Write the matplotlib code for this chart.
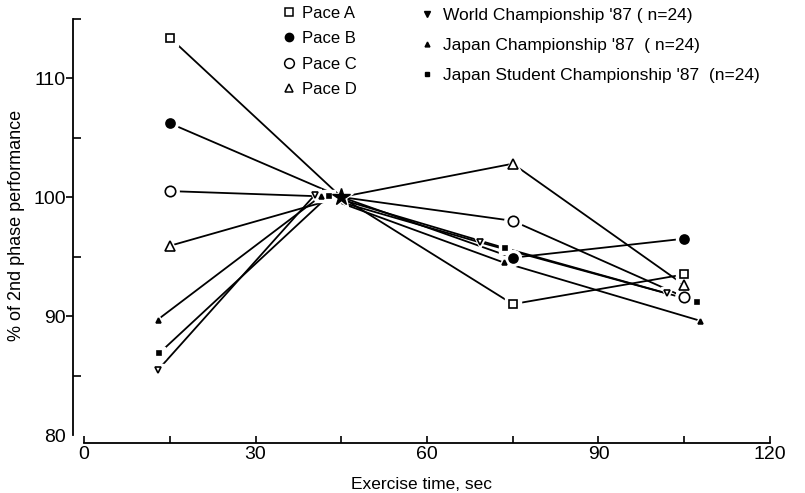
import numpy as np
import matplotlib.pyplot as plt
from matplotlib.lines import Line2D

plt.rcParams['font.family'] = ['Liberation Sans', 'DejaVu Sans']
narrow = ['Liberation Sans Narrow', 'Liberation Sans', 'DejaVu Sans']

# pace conditions: checkpoints at 15, 45, 75, 105 s (45 s is the reference point)
pace_time = [15, 45, 75, 105]
pace_a = [113.4, 100.0, 91.0, 93.5]
pace_b = [106.2, 100.0, 94.9, 96.5]
pace_c = [100.5, 100.0, 98.0, 91.6]
pace_d = [95.9, 100.0, 102.8, 92.6]

# race data, mean split times of each competition
world_time = [13.0, 40.4, 69.2, 101.9]
world_pct = [85.5, 100.2, 96.2, 91.9]
japan_time = [12.9, 41.5, 73.4, 107.8]
japan_pct = [89.7, 100.1, 94.5, 89.6]
student_time = [13.2, 42.8, 73.7, 107.2]
student_pct = [86.9, 100.1, 95.7, 91.2]

pace_labels = ['Pace A', 'Pace B', 'Pace C', 'Pace D']
race_labels = ["World Championship '87 ( n=24)",
               "Japan Championship '87  ( n=24)",
               "Japan Student Championship '87  (n=24)"]

fig = plt.figure(figsize=(8.05, 4.93), dpi=100)
ax = fig.add_axes([0.0902, 0.1176, 0.8663, 0.852])


def draw(t, v, marker, ms, fill, every=None):
    ax.plot(t, v, '-', color='k', lw=1.3, zorder=2)
    # white halo so the lines stop short of the symbols
    ax.plot(t, v, ls='none', marker=marker, ms=ms + 5, mfc='w', mec='w',
            markevery=every, zorder=3)
    ax.plot(t, v, ls='none', marker=marker, ms=ms, mfc=fill, mec='k',
            mew=1.2, markevery=every, zorder=4)


keep = [0, 2, 3]
draw(pace_time, pace_a, 's', 6, 'w', keep)
draw(pace_time, pace_b, 'o', 6.5, 'k', keep)
draw(pace_time, pace_c, 'o', 7.5, 'w', keep)
draw(pace_time, pace_d, '^', 6.5, 'w', keep)
draw(world_time, world_pct, 'v', 4, 'w')
draw(japan_time, japan_pct, '^', 3.5, 'k')
draw(student_time, student_pct, 's', 3.5, 'k')

# common reference point of the pace conditions
ax.plot(pace_time[1], pace_a[1], ls='none', marker='*', ms=18, mfc='w', mec='w', zorder=3)
ax.plot(pace_time[1], pace_a[1], ls='none', marker='*', ms=13, mfc='k', mec='k', zorder=5)

ax.set_xlim(-2, 120)
ax.set_ylim(80, 115.3)

for s in ['top', 'right']:
    ax.spines[s].set_visible(False)
ax.spines['left'].set_bounds(80, 115)
ax.spines['bottom'].set_position(('outward', 6))
ax.spines['bottom'].set_bounds(0, 120)
ax.spines['left'].set_linewidth(1.3)
ax.spines['bottom'].set_linewidth(1.3)

ax.set_xticks([0, 30, 60, 90, 120])
ax.set_xticks([15, 45, 75, 105], minor=True)
ax.set_yticks([80, 90, 100, 110])
ax.set_yticks([80, 85, 95, 105, 115], minor=True)
ax.tick_params(axis='x', which='both', direction='in', length=5, width=1.2,
               labelsize=14, pad=2)
ax.tick_params(axis='y', which='major', direction='out', length=5, width=1.2,
               labelsize=14, pad=0)
ax.tick_params(axis='y', which='minor', direction='in', length=6, width=1.2)
ax.yaxis.get_major_ticks()[0].tick1line.set_visible(False)
for lab in ax.get_xticklabels() + ax.get_yticklabels():
    lab.set_family(narrow)

ax.set_xlabel('Exercise time, sec', fontsize=12.5, labelpad=10)
ax.set_ylabel('% of 2nd phase performance', fontsize=13, labelpad=6)

pace_handles = [
    Line2D([], [], ls='none', marker='s', ms=5.5, mfc='w', mec='k', mew=1.1),
    Line2D([], [], ls='none', marker='o', ms=6, mfc='k', mec='k'),
    Line2D([], [], ls='none', marker='o', ms=7, mfc='w', mec='k', mew=1.1),
    Line2D([], [], ls='none', marker='^', ms=6, mfc='w', mec='k', mew=1.1),
]
race_handles = [
    Line2D([], [], ls='none', marker='v', ms=4, mfc='k', mec='k'),
    Line2D([], [], ls='none', marker='^', ms=3.5, mfc='k', mec='k'),
    Line2D([], [], ls='none', marker='s', ms=3.5, mfc='k', mec='k'),
]

leg1 = ax.legend(pace_handles, pace_labels, loc='upper left',
                 bbox_to_anchor=(282 / 805, 1 - 6 / 493), bbox_transform=fig.transFigure,
                 frameon=False, fontsize=12, handlelength=0.8, handletextpad=0.4,
                 labelspacing=0.62, borderpad=0, borderaxespad=0)
ax.add_artist(leg1)
ax.legend(race_handles, race_labels, loc='upper left',
          bbox_to_anchor=(420 / 805, 1 - 8 / 493), bbox_transform=fig.transFigure,
          frameon=False, fontsize=12.5, handlelength=0.8, handletextpad=0.5,
          labelspacing=0.86, borderpad=0, borderaxespad=0)

fig.savefig('out.png', dpi=100)
